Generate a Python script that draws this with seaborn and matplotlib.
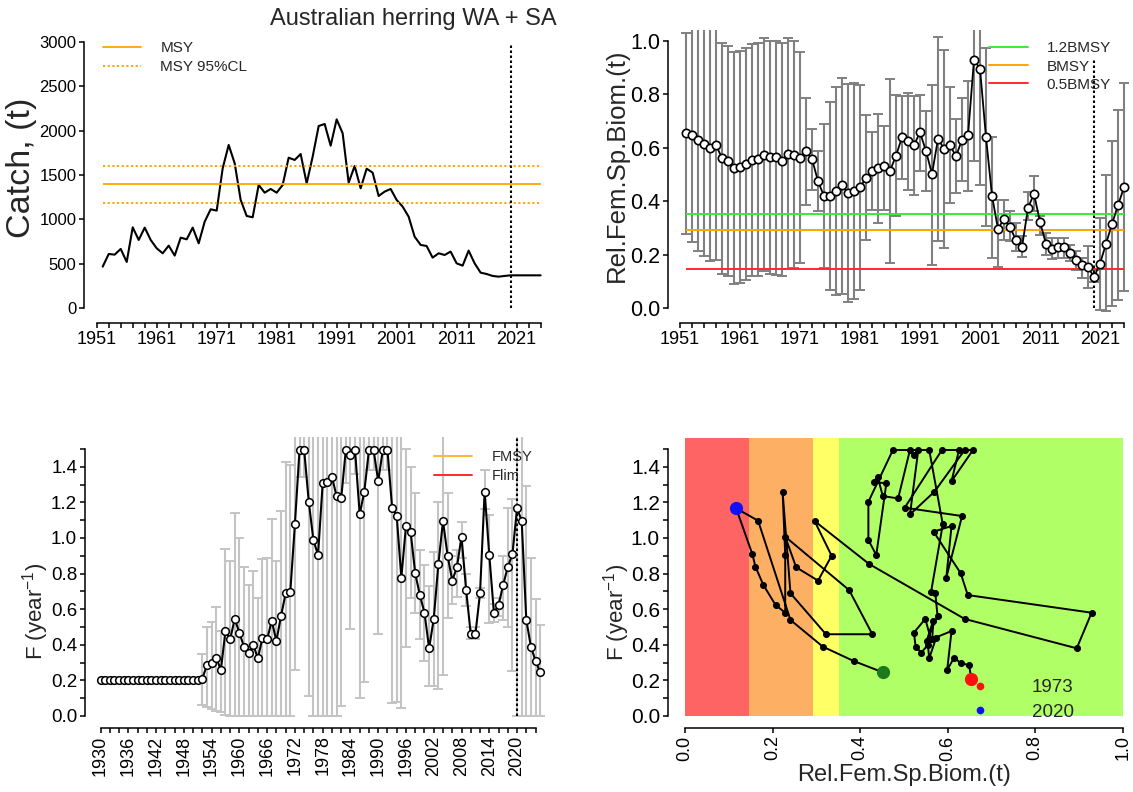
import numpy as np
import pandas as pd
import matplotlib
matplotlib.use("Agg")
import matplotlib.pyplot as plt
from matplotlib.lines import Line2D
from matplotlib.patches import Rectangle
import seaborn as sns

# ---------------- data ----------------
title = "Australian herring WA + SA"

catch_years = list(range(1952, 2026))
catch = [469, 611, 604, 668, 521, 911, 769, 908, 769, 675,
         619, 705, 593, 795, 776, 908, 731, 975, 1114, 1099,
         1575, 1838, 1631, 1219, 1039, 1024, 1388, 1301, 1343, 1301,
         1388, 1695, 1669, 1736, 1406, 1706, 2051, 2074, 1830, 2126,
         1969, 1414, 1601, 1350, 1571, 1526, 1264, 1313, 1343, 1219,
         1144, 1031, 806, 713, 701, 570, 619, 600, 638, 506,
         480, 649, 506, 401, 386, 364, 356, 364, 371, 371,
         371, 371, 371, 371]
msy = 1400
msy_cl = [1190, 1605]
catch_legend = ["MSY", "MSY 95%CL"]

b_years = list(range(1952, 2026))
biom = [0.654, 0.649, 0.630, 0.615, 0.599, 0.609, 0.562, 0.549, 0.523, 0.527,
        0.540, 0.555, 0.558, 0.574, 0.565, 0.567, 0.552, 0.577, 0.572, 0.562,
        0.589, 0.558, 0.475, 0.419, 0.419, 0.437, 0.460, 0.431, 0.440, 0.452,
        0.487, 0.514, 0.524, 0.533, 0.514, 0.570, 0.639, 0.626, 0.609, 0.658,
        0.587, 0.502, 0.633, 0.597, 0.609, 0.568, 0.630, 0.646, 0.929, 0.895,
        0.639, 0.421, 0.296, 0.335, 0.304, 0.254, 0.229, 0.375, 0.428, 0.322,
        0.241, 0.223, 0.229, 0.229, 0.207, 0.179, 0.161, 0.154, 0.117, 0.167,
        0.241, 0.315, 0.385, 0.452]
biom_lo = [0.279, 0.247, 0.215, 0.194, 0.176, 0.182, 0.129, 0.120, 0.091, 0.095,
           0.107, 0.120, 0.120, 0.138, 0.129, 0.125, 0.120, 0.148, 0.150, 0.170,
           0.387, 0.443, 0.362, 0.152, 0.067, 0.051, 0.055, 0.024, 0.036, 0.070,
           0.254, 0.368, 0.319, 0.368, 0.169, 0.344, 0.483, 0.443, 0.425, 0.514,
           0.440, 0.163, 0.250, 0.225, 0.393, 0.431, 0.475, 0.440, 0.549, 0.462,
           0.306, 0.188, 0.153, 0.256, 0.250, 0.215, 0.192, 0.330, 0.364, 0.275,
           0.201, 0.186, 0.188, 0.188, 0.175, 0.142, 0.113, 0.076, 0.100, -0.005,
           -0.010, 0.010, 0.030, 0.065]
biom_hi = [1.029, 1.100, 1.100, 1.100, 1.100, 1.100, 0.991, 0.979, 0.958, 0.963,
           0.973, 0.989, 0.991, 1.010, 1.000, 1.000, 0.991, 1.010, 1.000, 0.957,
           0.784, 0.671, 0.589, 0.690, 0.771, 0.826, 0.861, 0.838, 0.842, 0.833,
           0.721, 0.659, 0.726, 0.682, 0.855, 0.798, 0.795, 0.805, 0.795, 0.798,
           0.736, 0.836, 1.013, 0.964, 0.826, 0.709, 0.784, 0.848, 1.100, 1.100,
           0.973, 0.640, 0.406, 0.406, 0.364, 0.319, 0.269, 0.435, 0.493, 0.344,
           0.281, 0.263, 0.263, 0.263, 0.238, 0.213, 0.188, 0.232, 0.144, 0.338,
           0.499, 0.625, 0.740, 0.840]
ref_labels = ["1.2BMSY", "BMSY", "0.5BMSY"]
ref_values = [0.352, 0.293, 0.146]
ref_colors = ["#33EE33", "#FFA500", "#FF2A2A"]

f_years = list(range(1930, 2026))
fmort = [0.20, 0.20, 0.20, 0.20, 0.20, 0.20, 0.20, 0.20, 0.20, 0.20,
         0.20, 0.20, 0.20, 0.20, 0.20, 0.20, 0.20, 0.20, 0.20, 0.20,
         0.20, 0.20, 0.21,
         0.286, 0.296, 0.328, 0.258, 0.477, 0.430, 0.545, 0.468, 0.389, 0.356,
         0.399, 0.324, 0.440, 0.430, 0.535, 0.421, 0.561, 0.689, 0.694, 1.076,
         1.494, 1.494, 1.203, 0.988, 0.904, 1.306, 1.316, 1.344, 1.235, 1.222,
         1.494, 1.465, 1.494, 1.132, 1.260, 1.494, 1.494, 1.319, 1.494, 1.494,
         1.170, 1.123, 0.777, 1.067, 1.035, 0.801, 0.679, 0.580, 0.380, 0.545,
         0.853, 1.095, 0.900, 0.760, 0.835, 1.007, 0.707, 0.459, 0.459, 0.689,
         1.260, 0.904, 0.580, 0.623, 0.736, 0.838, 0.908, 1.166, 1.097, 0.539,
         0.389, 0.309, 0.245]
ferr_years = list(range(1952, 2026))
f_lo = [0.062, 0.050, 0.040, 0.030, 0.020, 0.005, 0.0, 0.0, 0.0, 0.0,
        0.0, 0.0, 0.0, 0.0, 0.0, 0.0, 0.0, 0.0, 0.0, 0.0,
        0.26, 1.34, 1.34, 0.11, 0.0, 0.0, 0.0, 0.0, 0.0, 0.0,
        0.056, 1.31, 0.49, 1.36, 0.10, 0.19, 1.38, 1.38, 0.46, 1.38,
        1.38, 0.075, 0.08, 0.045, 0.39, 0.66, 0.58, 0.43, 0.31, 0.17,
        0.17, 0.15, 0.23, 0.55, 0.63, 0.67, 0.89, 0.62, 0.43, 0.43,
        0.66, 1.16, 0.52, 0.53, 0.56, 0.54, 0.50, 0.25, 0.0, 0.0,
        0.0, 0.0, 0.0, 0.0]
f_hi = [0.35, 0.50, 0.53, 0.61, 0.48, 0.94, 0.87, 1.14, 1.00, 0.835,
        0.735, 0.815, 0.66, 0.88, 0.885, 1.105, 0.87, 1.15, 1.425, 1.41,
        2.0, 2.0, 2.0, 2.0, 2.0, 2.0, 2.0, 2.0, 2.0, 2.0,
        2.0, 2.0, 2.0, 2.0, 2.0, 2.0, 2.0, 2.0, 2.0, 2.0,
        2.0, 2.0, 2.0, 2.0, 1.50, 1.40, 1.25, 0.93, 0.85, 0.73,
        0.92, 1.20, 1.60, 1.25, 0.90, 0.93, 1.09, 0.80, 0.50, 0.50,
        0.72, 1.38, 1.13, 0.63, 0.66, 0.90, 1.17, 1.22, 2.0, 2.0,
        1.29, 0.89, 0.655, 0.51]
f_legend = ["FMSY", "Flim"]
f_legend_colors = ["#FFB733", "#FF2A2A"]
kobe_band_edges = [0.0, 0.146, 0.293, 0.352, 1.0]
kobe_band_colors = ["#FF6464", "#FDB064", "#FFFF66", "#B0FF66"]
kobe_legend = ["1973", "2020"]
final_year_marker = 2020

# ---------------- styling ----------------
sns.set_theme(style="ticks")
plt.rcParams["font.family"] = ["Liberation Sans", "DejaVu Sans"]
plt.rcParams["mathtext.fontset"] = "custom"
plt.rcParams["mathtext.rm"] = "Liberation Sans"
plt.rcParams["mathtext.it"] = "Liberation Sans"
plt.rcParams["axes.linewidth"] = 1.1

W, H = 1133, 792
fig = plt.figure(figsize=(W / 100, H / 100), dpi=100)


def add_axes(left, top, right, bottom):
    return fig.add_axes([left / W, 1 - bottom / H, (right - left) / W, (bottom - top) / H])


def style(ax, xb, yb, xt, xl, yt, yl, xs, ys, xrot=0):
    for s in ["top", "right"]:
        ax.spines[s].set_visible(False)
    ax.spines["left"].set_bounds(*yb)
    ax.spines["bottom"].set_bounds(*xb)
    for s in ["left", "bottom"]:
        ax.spines[s].set_color("black")
        ax.spines[s].set_linewidth(1.1)
    ax.set_xticks(xt)
    ax.set_xticklabels(xl, fontsize=xs, rotation=xrot)
    ax.set_yticks(yt)
    ax.set_yticklabels(yl, fontsize=ys)
    ax.tick_params(direction="out", length=3.6, width=1.1, color="black", pad=2,
                   labelcolor="black")
    ax.set_xlabel("")
    ax.set_ylabel("")
    ax.set_facecolor("white")


ax1 = add_axes(84.3, 30, 552, 323.3)
ax2 = add_axes(668.3, 29.7, 1130, 323.3)
ax3 = add_axes(85, 437, 555, 727.7)
ax4 = add_axes(667.7, 437, 1130, 727.7)

dotted = (0, (1.2, 1.2))

# ---- panel 1: catch ----
df_c = pd.DataFrame({"year": catch_years, "catch": catch})
sns.lineplot(data=df_c, x="year", y="catch", ax=ax1, color="black", lw=1.5)
ax1.hlines(msy, catch_years[0], catch_years[-1], color="#FFA500", lw=1.3)
ax1.hlines(msy_cl, catch_years[0], catch_years[-1], color="#FFA500", lw=1.4,
           linestyles=[(0, (1.1, 1.3))])
ax1.vlines(final_year_marker, 0, 2960, color="black", lw=1.5, linestyles=[dotted])
ax1.set_xlim(1948.93, 2026.9)
ax1.set_ylim(-168.8, 3131.6)
xt = list(range(1951, 2026, 2))
style(ax1, (1951, 2025), (0, 3000), xt,
      [str(y) if (y - 1951) % 10 == 0 else "" for y in xt],
      list(range(0, 3001, 500)), [str(v) for v in range(0, 3001, 500)], 13, 12)
h1 = [Line2D([], [], color="#FFA500", lw=1.3),
      Line2D([], [], color="#FFA500", lw=1.4, ls=(0, (1.1, 1.3)))]
ax1.legend(h1, catch_legend, loc="upper left", bbox_to_anchor=(103 / W, 1 - 41.4 / H),
           bbox_transform=fig.transFigure, frameon=False, fontsize=11,
           handlelength=2.5, handletextpad=1.25, labelspacing=0.3, borderpad=0,
           borderaxespad=0)
fig.text(22 / W, 1 - 168 / H, "Catch, (t)", rotation=90, ha="center", va="center",
         fontsize=24.5)
fig.text(413 / W, 1 - 19 / H, title, ha="center", va="center", fontsize=17)

# ---- panel 2: relative biomass ----
b = np.array(biom)
ax2.errorbar(b_years, b, yerr=[b - np.array(biom_lo), np.array(biom_hi) - b], fmt="none",
             ecolor="#808080", elinewidth=1.5, capsize=3.8, capthick=1.4, zorder=1)
ax2.hlines(ref_values, b_years[0], b_years[-1], colors=ref_colors, lw=1.4, zorder=2)
df_b = pd.DataFrame({"year": b_years, "B": biom})
sns.lineplot(data=df_b, x="year", y="B", ax=ax2, color="black", lw=1.3, marker="o",
             markersize=6, markerfacecolor="white", markeredgecolor="black",
             markeredgewidth=1.2, zorder=3)
ax2.vlines(final_year_marker, 0, max(biom), color="black", lw=1.5, linestyles=[dotted],
           zorder=2)
ax2.set_xlim(1949.05, 2026.0)
ax2.set_ylim(-0.056, 1.041)
yt2 = [0.0, 0.2, 0.4, 0.6, 0.8, 1.0]
style(ax2, (1951, 2025), (0, 1.0), xt,
      [str(y) if (y - 1951) % 10 == 0 else "" for y in xt],
      yt2, [f"{v:.1f}" for v in yt2], 13, 15.5)
h2 = [Line2D([], [], color=c, lw=1.4) for c in ref_colors]
ax2.legend(h2, ref_labels, loc="upper left", bbox_to_anchor=(989 / W, 1 - 41.4 / H),
           bbox_transform=fig.transFigure, frameon=False, fontsize=11,
           handlelength=2.55, handletextpad=1.22, labelspacing=0.27, borderpad=0,
           borderaxespad=0)
fig.text(617 / W, 1 - 165 / H, "Rel.Fem.Sp.Biom.(t)", rotation=90, ha="center",
         va="center", fontsize=18.5)

# ---- panel 3: fishing mortality ----
fe = np.array(fmort[len(f_years) - len(ferr_years):])
ax3.errorbar(ferr_years, fe, yerr=[fe - np.array(f_lo), np.array(f_hi) - fe], fmt="none",
             ecolor="#C4C4C4", elinewidth=1.5, capsize=3.6, capthick=1.4, zorder=1)
df_f = pd.DataFrame({"year": f_years, "F": fmort})
sns.lineplot(data=df_f, x="year", y="F", ax=ax3, color="black", lw=1.5, marker="o",
             markersize=5.5, markerfacecolor="white", markeredgecolor="black",
             markeredgewidth=1.1, zorder=3)
ax3.vlines(final_year_marker, 0, 1.6, color="black", lw=1.5, linestyles=[dotted], zorder=2)
ax3.set_xlim(1926.65, 2028.2)
ax3.set_ylim(-0.066, 1.567)
xt3 = list(range(1930, 2025, 2))
yt3 = [round(0.1 * i, 1) for i in range(16)]
style(ax3, (1930, 2024), (0, 1.5), xt3,
      [str(y) if (y - 1930) % 6 == 0 else "" for y in xt3],
      yt3, [f"{v:.1f}" if i % 2 == 0 and i < 15 else "" for i, v in enumerate(yt3)],
      13, 13.5, xrot=90)
h3 = [Line2D([], [], color=c, lw=1.4) for c in f_legend_colors]
ax3.legend(h3, f_legend, loc="upper left", bbox_to_anchor=(434 / W, 1 - 450.4 / H),
           bbox_transform=fig.transFigure, frameon=False, fontsize=10.5,
           handlelength=2.6, handletextpad=1.35, labelspacing=0.32, borderpad=0,
           borderaxespad=0)
fig.text(36 / W, 1 - 611 / H, r"F (year$^{-1}$)", rotation=90, ha="center", va="center",
         fontsize=16)

# ---- panel 4: Kobe plot ----
ytop = 1.559
for x0, x1, c in zip(kobe_band_edges[:-1], kobe_band_edges[1:], kobe_band_colors):
    ax4.add_patch(Rectangle((x0, 0), x1 - x0, ytop, facecolor=c, edgecolor="none", zorder=0))
fk = fmort[len(f_years) - len(b_years):]
df_k = pd.DataFrame({"B": biom, "F": fk, "order": range(len(biom))})
sns.lineplot(data=df_k, x="B", y="F", ax=ax4, sort=False, estimator=None, color="black",
             lw=1.4, marker="o", markersize=4.3, markerfacecolor="black",
             markeredgecolor="black", zorder=2)
i_end = b_years.index(final_year_marker)
ax4.plot(biom[0], fk[0], "o", color="#FF1010", ms=8.5, zorder=4)
ax4.plot(biom[i_end], fk[i_end], "o", color="#1010FF", ms=8.5, zorder=4)
ax4.plot(biom[-1], fk[-1], "o", color="#1C7A1C", ms=8.5, zorder=4)
ax4.set_xlim(-0.0395, 1.0167)
ax4.set_ylim(-0.066, 1.567)
xt4 = [0.0, 0.2, 0.4, 0.6, 0.8, 1.0]
style(ax4, (0, 1.0), (0, 1.5), xt4, [f"{v:.1f}" for v in xt4],
      yt3, [f"{v:.1f}" if i % 2 == 0 and i < 15 else "" for i, v in enumerate(yt3)],
      13, 15, xrot=90)
h4 = [Line2D([], [], marker="o", color="#FF1010", ls="none", ms=4.5),
      Line2D([], [], marker="o", color="#1010FF", ls="none", ms=4.5)]
ax4.legend(h4, kobe_legend, loc="upper left", bbox_to_anchor=(970.6 / W, 1 - 679 / H),
           bbox_transform=fig.transFigure, frameon=False, fontsize=13.5,
           handlelength=1.0, handletextpad=2.26, labelspacing=0.39, borderpad=0,
           borderaxespad=0)
fig.text(904 / W, 1 - 775 / H, "Rel.Fem.Sp.Biom.(t)", ha="center", va="center",
         fontsize=17)
fig.text(617 / W, 1 - 612 / H, r"F (year$^{-1}$)", rotation=90, ha="center", va="center",
         fontsize=16)

fig.savefig("out.png", dpi=100, facecolor="white")
